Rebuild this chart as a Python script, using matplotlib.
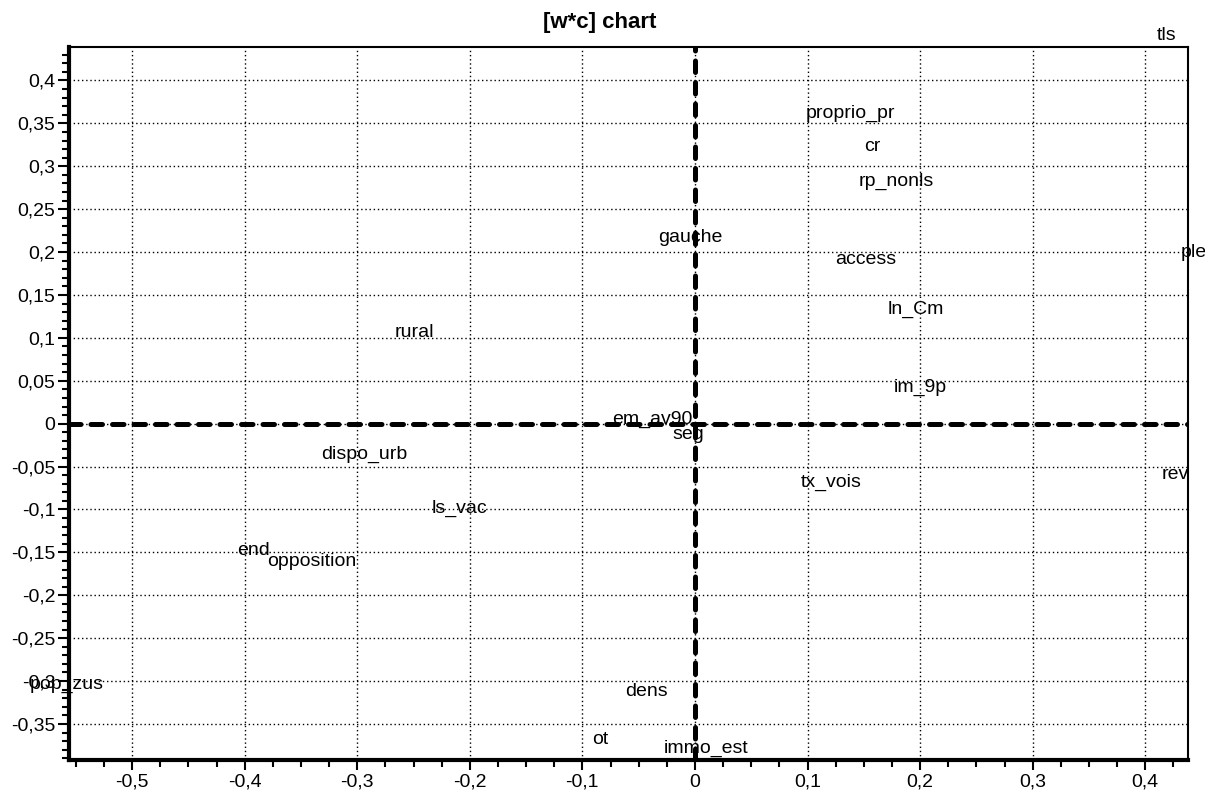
import matplotlib
matplotlib.use("Agg")
import matplotlib.pyplot as plt
from matplotlib.ticker import MultipleLocator, FuncFormatter
import numpy as np

plt.rcParams['font.family'] = ['Liberation Sans', 'DejaVu Sans']

# variable labels and their coordinates on the [w*c] chart
labels = ['tls', 'proprio_pr', 'cr', 'rp_nonls', 'gauche', 'access', 'ple',
          'ln_Cm', 'rural', 'im_9p', 'em_av90', 'seg', 'dispo_urb', 'tx_vois',
          'rev', 'ls_vac', 'end', 'opposition', 'pop_zus', 'dens', 'ot',
          'immo_est']
x_vals = [0.419, 0.138, 0.158, 0.179, -0.004, 0.152, 0.443,
          0.196, -0.249, 0.200, -0.038, -0.006, -0.294, 0.121,
          0.427, -0.209, -0.392, -0.340, -0.558, -0.043, -0.084,
          0.010]
y_vals = [0.452, 0.362, 0.323, 0.282, 0.217, 0.191, 0.200,
          0.133, 0.106, 0.042, 0.005, -0.013, -0.036, -0.069,
          -0.059, -0.099, -0.148, -0.161, -0.304, -0.312, -0.368,
          -0.378]

x_ticks = np.arange(-0.5, 0.41, 0.1)
y_ticks = np.arange(-0.35, 0.41, 0.05)


def comma(v, pos):
    v = round(v, 3)
    if abs(v) < 1e-9:
        return '0'
    return f"{v:g}".replace('.', ',')


fig = plt.figure(figsize=(12.05, 7.94), dpi=100)
ax = fig.add_axes([0.0573, 0.0428, 0.9286, 0.898])

ax.set_xlim(-0.556, 0.438)
ax.set_ylim(-0.392, 0.439)

ax.set_xticks(x_ticks)
ax.set_yticks(y_ticks)
ax.xaxis.set_minor_locator(MultipleLocator(0.025))
ax.yaxis.set_minor_locator(MultipleLocator(0.01))
ax.xaxis.set_major_formatter(FuncFormatter(comma))
ax.yaxis.set_major_formatter(FuncFormatter(comma))

ax.tick_params(axis='both', which='both', direction='out', color='black',
               labelsize=14, pad=2)
ax.tick_params(axis='y', which='major', length=8, width=1.5)
ax.tick_params(axis='y', which='minor', length=5, width=1.5)
ax.tick_params(axis='x', which='major', length=7, width=1.5, pad=3)
ax.tick_params(axis='x', which='minor', length=5, width=1.5)

ax.grid(True, which='major', color='black', linestyle=(0, (1, 2)), linewidth=1)
ax.set_axisbelow(True)

for side in ['left', 'bottom']:
    ax.spines[side].set_linewidth(3)
for side in ['top', 'right']:
    ax.spines[side].set_linewidth(1.5)

# thick dashed axes through the origin
ax.axhline(0, color='black', linewidth=3.6, dashes=(2.3, 2.0),
           dash_capstyle='round', zorder=2)
ax.axvline(0, color='black', linewidth=3.6, dashes=(2.3, 2.0),
           dash_capstyle='round', zorder=2)

for name, x, y in zip(labels, x_vals, y_vals):
    ax.text(x, y, name, fontsize=14, ha='center', va='center', zorder=3)

# title centred on the figure, not on the axes
fig.text(0.498, 0.972, '[w*c] chart', fontsize=16, fontweight='bold',
         ha='center', va='center')

plt.savefig('out.png', dpi=100)
plt.close()
